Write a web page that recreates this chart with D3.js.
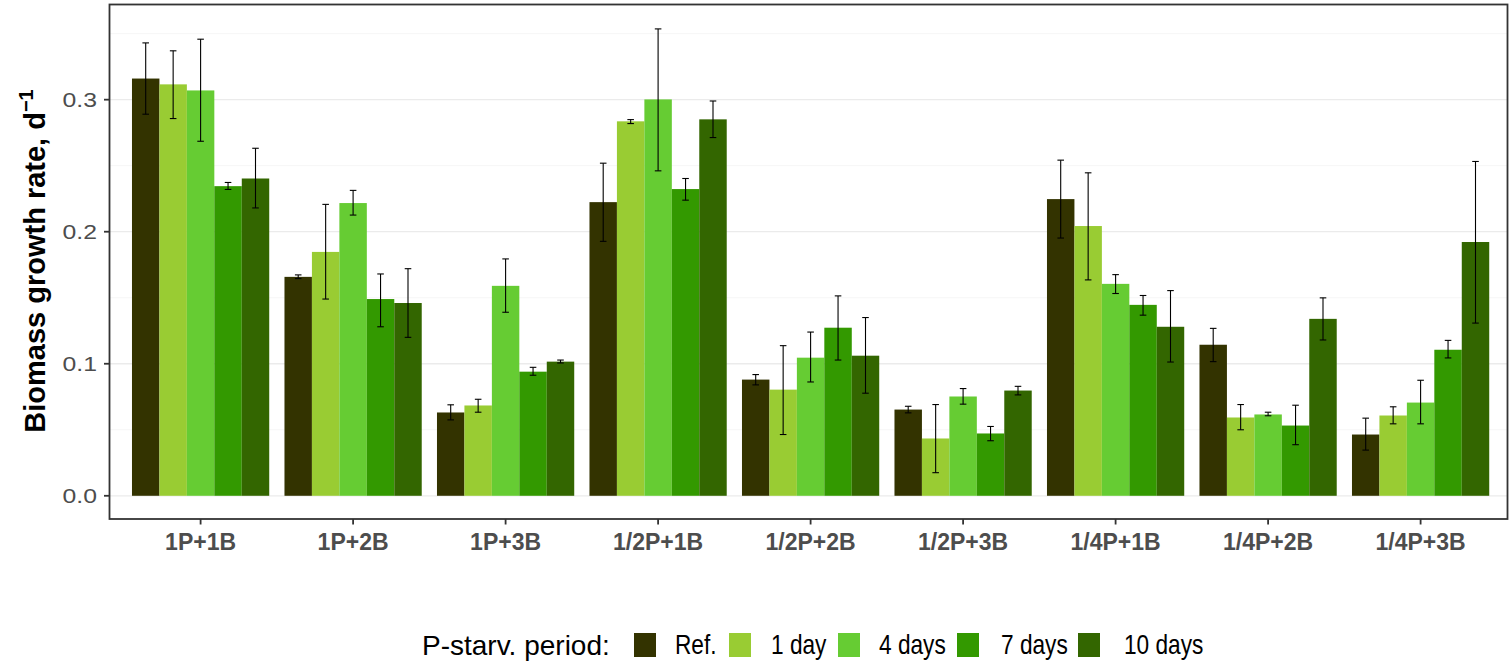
<!DOCTYPE html>
<html>
<head>
<meta charset="utf-8">
<script src="https://cdn.jsdelivr.net/npm/d3@7"></script>
<style>
  html, body { margin: 0; padding: 0; background: #fff; }
  svg { display: block; font-family: "Liberation Sans", Arial, sans-serif; }
</style>
</head>
<body>
<svg id="chart" width="1509" height="662"></svg>
<script>
// Growth-rate data per co-culture treatment and P-starvation period
const categories = ["1P+1B", "1P+2B", "1P+3B", "1/2P+1B", "1/2P+2B", "1/2P+3B", "1/4P+1B", "1/4P+2B", "1/4P+3B"];
const seriesNames = ["Ref.", "1 day", "4 days", "7 days", "10 days"];
const seriesColors = ["#333300", "#99cc33", "#66cc33", "#339900", "#336600"];

const ref    = [0.316, 0.1658, 0.0631, 0.2224, 0.088, 0.0653, 0.2247, 0.1144, 0.0464];
const day1   = [0.3116, 0.1847, 0.0684, 0.2836, 0.0804, 0.0434, 0.2043, 0.0593, 0.0608];
const day4   = [0.307, 0.2217, 0.159, 0.3002, 0.1046, 0.0752, 0.1605, 0.0616, 0.0706];
const day7   = [0.2345, 0.149, 0.094, 0.2323, 0.1273, 0.0472, 0.1446, 0.0532, 0.1106];
const day10  = [0.2403, 0.146, 0.1016, 0.2851, 0.1061, 0.0797, 0.128, 0.134, 0.1922];

const refLo   = [0.289, 0.1645, 0.0575, 0.1927, 0.084, 0.0628, 0.1952, 0.1016, 0.0346];
const refHi   = [0.343, 0.1673, 0.0689, 0.2519, 0.0918, 0.0678, 0.2542, 0.1268, 0.0588];
const day1Lo  = [0.2857, 0.149, 0.0633, 0.2819, 0.0464, 0.0175, 0.1635, 0.05, 0.0545];
const day1Hi  = [0.337, 0.2207, 0.0731, 0.2849, 0.1137, 0.0691, 0.2446, 0.0691, 0.0674];
const day4Lo  = [0.2685, 0.2126, 0.139, 0.2461, 0.0862, 0.0694, 0.1532, 0.0606, 0.0545];
const day4Hi  = [0.3458, 0.2313, 0.1794, 0.3536, 0.124, 0.0812, 0.1675, 0.0633, 0.0875];
const day7Lo  = [0.232, 0.128, 0.0913, 0.2239, 0.1028, 0.0417, 0.1368, 0.0387, 0.1044];
const day7Hi  = [0.2373, 0.168, 0.0973, 0.2403, 0.1514, 0.0525, 0.1517, 0.0686, 0.1177];
const day10Lo = [0.218, 0.12, 0.1006, 0.2713, 0.0777, 0.0764, 0.1013, 0.118, 0.1308];
const day10Hi = [0.2632, 0.172, 0.1028, 0.299, 0.135, 0.0829, 0.1554, 0.1499, 0.2532];

const yTicks = [0.0, 0.1, 0.2, 0.3];
const yMinor = [0.05, 0.15, 0.25, 0.35];

const values = [ref, day1, day4, day7, day10];
const lows   = [refLo, day1Lo, day4Lo, day7Lo, day10Lo];
const highs  = [refHi, day1Hi, day4Hi, day7Hi, day10Hi];

const rows = [];
categories.forEach((c, ci) => {
  seriesNames.forEach((s, si) => {
    rows.push({ cat: c, series: s, v: values[si][ci], lo: lows[si][ci], hi: highs[si][ci] });
  });
});

const svg = d3.select("#chart");
// visible panel frame (the right edge of the plotting range runs past the frame)
const panel = { left: 110, right: 1507, top: 5, bottom: 518.5 };

const x = d3.scaleBand().domain(categories)
  .range([109.1, 1512.1]).paddingInner(0.1).paddingOuter(0.15);
const xs = d3.scaleBand().domain(seriesNames).range([0, x.bandwidth()]).padding(0);
const y = d3.scaleLinear().domain([-0.0172, 0.3717]).range([panel.bottom, panel.top]);
const color = d3.scaleOrdinal().domain(seriesNames).range(seriesColors);

// grid lines
svg.append("g").selectAll("line").data(yMinor).join("line")
  .attr("x1", panel.left).attr("x2", panel.right)
  .attr("y1", d => y(d)).attr("y2", d => y(d))
  .attr("stroke", "#f6f6f6").attr("stroke-width", 1);
svg.append("g").selectAll("line").data(yTicks).join("line")
  .attr("x1", panel.left).attr("x2", panel.right)
  .attr("y1", d => y(d)).attr("y2", d => y(d))
  .attr("stroke", "#ebebeb").attr("stroke-width", 1.3);

// bars
svg.append("g").selectAll("rect").data(rows).join("rect")
  .attr("x", d => x(d.cat) + xs(d.series))
  .attr("width", xs.bandwidth())
  .attr("y", d => y(d.v))
  .attr("height", d => y(0) - y(d.v))
  .attr("fill", d => color(d.series));

// error bars
const capW = xs.bandwidth() * 0.24;
const eb = svg.append("g").attr("stroke", "#000").attr("stroke-width", 1.1);
rows.forEach(d => {
  const cx = x(d.cat) + xs(d.series) + xs.bandwidth() / 2;
  eb.append("line").attr("x1", cx).attr("x2", cx).attr("y1", y(d.lo)).attr("y2", y(d.hi));
  eb.append("line").attr("x1", cx - capW / 2).attr("x2", cx + capW / 2).attr("y1", y(d.lo)).attr("y2", y(d.lo));
  eb.append("line").attr("x1", cx - capW / 2).attr("x2", cx + capW / 2).attr("y1", y(d.hi)).attr("y2", y(d.hi));
});

// panel border
svg.append("rect")
  .attr("x", panel.left - 0.5).attr("y", panel.top - 0.5)
  .attr("width", panel.right - panel.left + 1).attr("height", panel.bottom - panel.top + 1)
  .attr("fill", "none").attr("stroke", "#333").attr("stroke-width", 1.8);

// y axis ticks and labels
const yAxis = svg.append("g");
yAxis.selectAll("line").data(yTicks).join("line")
  .attr("x1", panel.left - 6).attr("x2", panel.left - 0.5)
  .attr("y1", d => y(d)).attr("y2", d => y(d))
  .attr("stroke", "#333").attr("stroke-width", 1.8);
yAxis.selectAll("text").data(yTicks).join("text")
  .attr("transform", d => `translate(97,${y(d)}) scale(1.18,1)`)
  .attr("dy", "0.36em")
  .attr("text-anchor", "end")
  .attr("font-size", 21)
  .attr("fill", "#4d4d4d")
  .text(d => d3.format(".1f")(d));

// x axis ticks and labels
const xAxis = svg.append("g");
xAxis.selectAll("line").data(categories).join("line")
  .attr("x1", d => x(d) + x.bandwidth() / 2).attr("x2", d => x(d) + x.bandwidth() / 2)
  .attr("y1", panel.bottom + 0.5).attr("y2", panel.bottom + 6)
  .attr("stroke", "#333").attr("stroke-width", 1.8);
xAxis.selectAll("text").data(categories).join("text")
  .attr("x", d => x(d) + x.bandwidth() / 2)
  .attr("y", 550)
  .attr("text-anchor", "middle")
  .attr("font-size", 23)
  .attr("font-weight", "bold")
  .attr("fill", "#4d4d4d")
  .text(d => d);

// y axis title
const yt = svg.append("text")
  .attr("transform", "translate(45,261) rotate(-90)")
  .attr("text-anchor", "middle")
  .attr("font-size", 29)
  .attr("font-weight", "bold")
  .attr("fill", "#000");
yt.append("tspan").text("Biomass growth rate, d");
yt.append("tspan").attr("font-size", 20).attr("dy", -12).text("\u22121");

// legend
const legend = svg.append("g");
legend.append("text")
  .attr("x", 422).attr("y", 655)
  .attr("font-size", 28)
  .attr("fill", "#000")
  .text("P-starv. period:");
const keyX = [634, 729, 838, 957, 1078];
const labX = [675, 771, 879, 1001, 1124];
seriesNames.forEach((s, i) => {
  legend.append("rect")
    .attr("x", keyX[i]).attr("y", 633)
    .attr("width", 22).attr("height", 24)
    .attr("fill", color(s));
  legend.append("text")
    .attr("transform", `translate(${labX[i]},654) scale(0.84,1)`)
    .attr("font-size", 27)
    .attr("fill", "#000")
    .text(s);
});
</script>
</body>
</html>
